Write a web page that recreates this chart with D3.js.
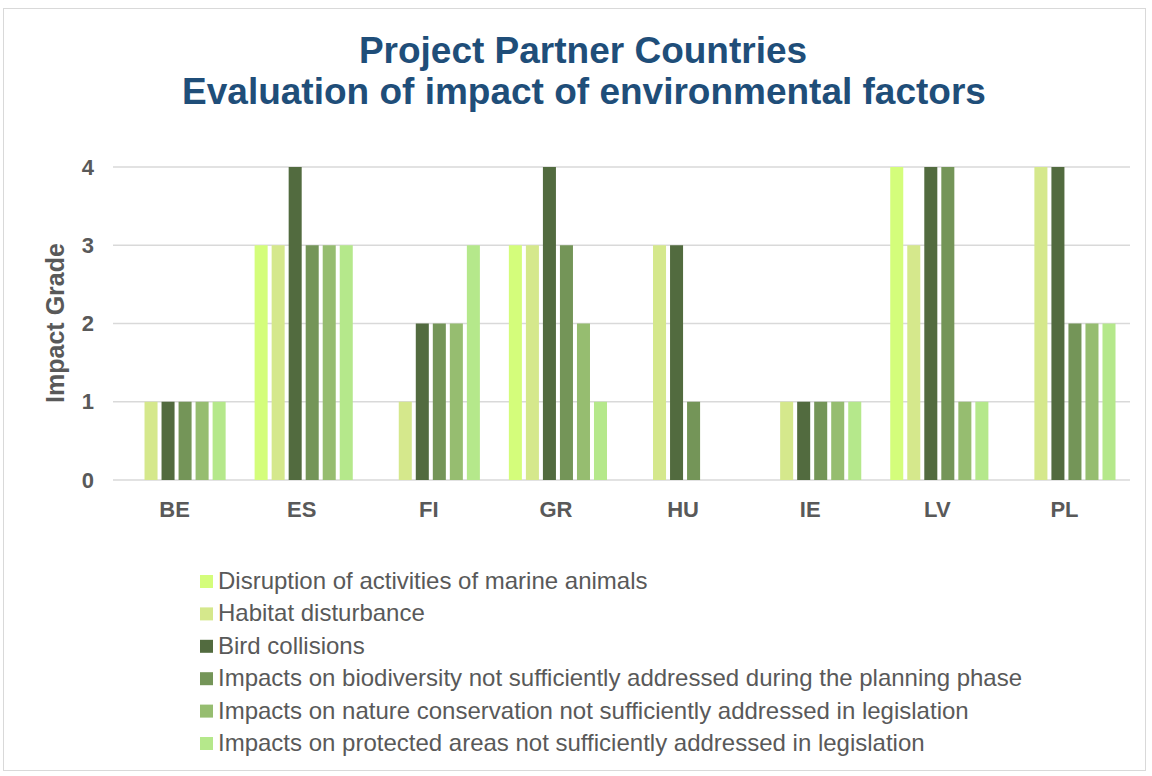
<!DOCTYPE html>
<html>
<head>
<meta charset="utf-8">
<script src="https://cdn.jsdelivr.net/npm/d3@7"></script>
<style>
  body { margin: 0; background: #fff; }
  text { font-family: "Liberation Sans", Arial, sans-serif; }
</style>
</head>
<body>
<svg id="chart" width="1152" height="776"></svg>
<script>
// categories and series
var countries = ["BE", "ES", "FI", "GR", "HU", "IE", "LV", "PL"];
var seriesNames = [
  "Disruption of activities of marine animals",
  "Habitat disturbance",
  "Bird collisions",
  "Impacts on biodiversity not sufficiently addressed during the planning phase",
  "Impacts on nature conservation not sufficiently addressed in legislation",
  "Impacts on protected areas not sufficiently addressed in legislation"
];
var disruption   = [0, 3, 0, 3, 0, 0, 4, 0];
var habitat      = [1, 3, 1, 3, 3, 1, 3, 4];
var birds        = [1, 4, 2, 4, 3, 1, 4, 4];
var biodiversity = [1, 3, 2, 3, 1, 1, 4, 2];
var nature       = [1, 3, 2, 2, 0, 1, 1, 2];
var protectedA   = [1, 3, 3, 1, 0, 1, 1, 2];
var yTicks = [0, 1, 2, 3, 4];
var colors = ["#d4fd7b", "#d5e88c", "#526b3f", "#749558", "#96bd70", "#b5e88b"];

var allSeries = [disruption, habitat, birds, biodiversity, nature, protectedA];

var svg = d3.select("#chart");

// outer border
svg.append("rect")
  .attr("x", 3.5).attr("y", 8.5)
  .attr("width", 1142).attr("height", 762)
  .attr("fill", "#fff")
  .attr("stroke", "#d9d9d9").attr("stroke-width", 1);

// title
svg.append("text")
  .attr("x", 583).attr("y", 63)
  .attr("text-anchor", "middle")
  .attr("font-size", 37).attr("font-weight", "bold")
  .attr("fill", "#1f4e79")
  .text("Project Partner Countries");
svg.append("text")
  .attr("x", 584).attr("y", 104)
  .attr("text-anchor", "middle")
  .attr("font-size", 37).attr("font-weight", "bold")
  .attr("fill", "#1f4e79")
  .text("Evaluation of impact of environmental factors");

var plotLeft = 113, plotRight = 1130, plotTop = 167, plotBottom = 480;

var x0 = d3.scaleBand()
  .domain(countries)
  .range([plotLeft, plotRight])
  .paddingInner(0.228)
  .paddingOuter(0.114);

var x1 = d3.scaleBand()
  .domain(d3.range(allSeries.length))
  .range([0, x0.bandwidth()])
  .paddingInner(0.235)
  .paddingOuter(0);

var y = d3.scaleLinear().domain([0, 4]).range([plotBottom, plotTop]);

// gridlines
svg.append("g").selectAll("line")
  .data(yTicks)
  .enter().append("line")
  .attr("x1", plotLeft).attr("x2", plotRight)
  .attr("y1", function(d){ return y(d); })
  .attr("y2", function(d){ return y(d); })
  .attr("stroke", "#d9d9d9").attr("stroke-width", 1.5);

// y axis labels
var yAxis = d3.axisLeft(y).tickValues(yTicks).tickSize(0).tickPadding(0).tickFormat(d3.format("d"));
var ya = svg.append("g").attr("transform", "translate(" + 94 + ",0)").call(yAxis);
ya.select(".domain").remove();
ya.selectAll("text")
  .attr("font-size", 22).attr("font-weight", "bold")
  .attr("fill", "#595959")
  .attr("font-family", "Liberation Sans, Arial, sans-serif");

svg.append("text")
  .attr("transform", "translate(64," + 323 + ") rotate(-90)")
  .attr("text-anchor", "middle")
  .attr("font-size", 25).attr("font-weight", "bold")
  .attr("fill", "#595959")
  .text("Impact Grade");

// bars
var groups = svg.append("g").selectAll("g")
  .data(countries)
  .enter().append("g")
  .attr("transform", function(d){ return "translate(" + x0(d) + ",0)"; });

groups.selectAll("rect")
  .data(function(d, ci){ return allSeries.map(function(s, si){ return {si: si, v: s[ci]}; }); })
  .enter().append("rect")
  .attr("x", function(d){ return x1(d.si); })
  .attr("width", x1.bandwidth())
  .attr("y", function(d){ return y(d.v); })
  .attr("height", function(d){ return plotBottom - y(d.v); })
  .attr("fill", function(d){ return colors[d.si]; });

// x axis labels
var xAxis = d3.axisBottom(x0).tickSize(0).tickPadding(0);
var xa = svg.append("g").attr("transform", "translate(-2," + 517 + ")").call(xAxis);
xa.select(".domain").remove();
xa.selectAll("text")
  .attr("dy", 0)
  .attr("font-size", 22).attr("font-weight", "bold")
  .attr("fill", "#595959")
  .attr("font-family", "Liberation Sans, Arial, sans-serif");

// legend
var legend = svg.append("g").selectAll("g")
  .data(seriesNames)
  .enter().append("g")
  .attr("transform", function(d, i){ return "translate(200," + (589 + i * 32.4) + ")"; });
legend.append("rect")
  .attr("x", 0).attr("y", -14)
  .attr("width", 13).attr("height", 13)
  .attr("fill", function(d, i){ return colors[i]; });
legend.append("text")
  .attr("x", 18).attr("y", 0)
  .attr("font-size", 24)
  .attr("fill", "#595959")
  .text(function(d){ return d; });
</script>
</body>
</html>
